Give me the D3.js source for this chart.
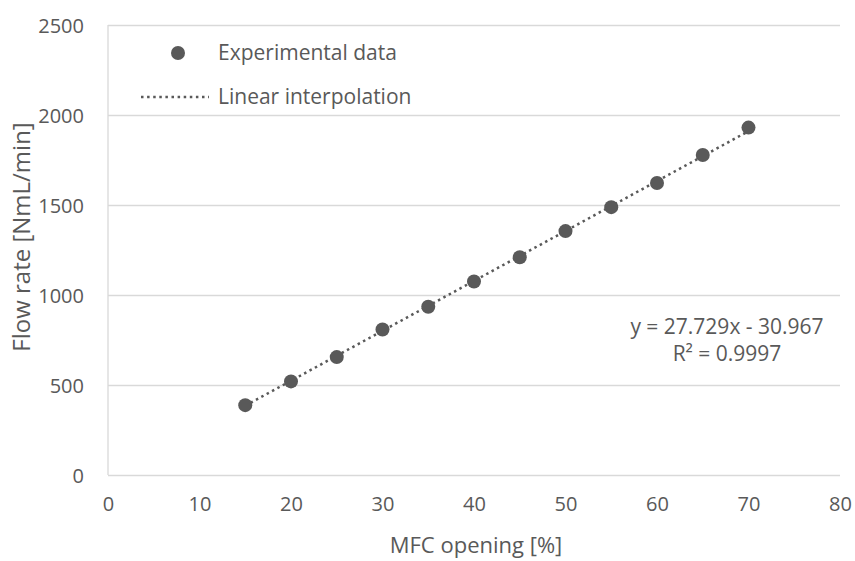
<!DOCTYPE html>
<meta charset="utf-8">
<title>Flow rate vs MFC opening</title>
<style>
    body { margin: 0; background: #fff; }
    text { font-family: "Open Sans", sans-serif; fill: #595959; }
    .grid line { stroke: #d9d9d9; stroke-width: 1.3; }
    .grid .domain { display: none; }
    .axis .domain, .axis line { display: none; }
    .axis text { font-size: 20px; }
    .trend { fill: none; stroke: #595959; stroke-width: 2.5; stroke-dasharray: 2.5 3.6; }
    .pt { fill: #595959; }
</style>
<body>
<svg width="855" height="561"></svg>
</body>
<script src="https://cdn.jsdelivr.net/npm/d3@7"></script>
<script>
    // data
    var opening = [15, 20, 25, 30, 35, 40, 45, 50, 55, 60, 65, 70];
    var flowRate = [388, 520, 655, 808, 935, 1075, 1210, 1355, 1488, 1622, 1778, 1930];
    var xTicks = [0, 10, 20, 30, 40, 50, 60, 70, 80];
    var yTicks = [0, 500, 1000, 1500, 2000, 2500];
    var slope = 27.729, intercept = -30.967, r2 = 0.9997;

    var margin = {top: 25, right: 15, bottom: 86, left: 108},
        width = 855 - margin.left - margin.right,
        height = 561 - margin.top - margin.bottom;

    var svg = d3.select("svg").append("g")
        .attr("transform", "translate(" + margin.left + "," + margin.top + ")");

    var x = d3.scaleLinear().domain([0, 80]).range([0, width]);
    var y = d3.scaleLinear().domain([0, 2500]).range([height, 0]);

    // horizontal gridlines
    svg.append("g")
        .attr("class", "grid")
        .call(d3.axisLeft(y).tickValues(yTicks).tickSize(-width).tickFormat(""));
    // left axis line
    svg.append("line")
        .attr("x1", 0).attr("x2", 0).attr("y1", 0).attr("y2", height)
        .attr("stroke", "#d9d9d9").attr("stroke-width", 1.3);

    svg.append("g")
        .attr("class", "axis")
        .call(d3.axisLeft(y).tickValues(yTicks).tickSize(0).tickPadding(24).tickFormat(d3.format("d")))
        .selectAll("text").attr("dy", "0.35em");

    svg.append("g")
        .attr("class", "axis")
        .attr("transform", "translate(0," + height + ")")
        .call(d3.axisBottom(x).tickValues(xTicks).tickSize(0).tickPadding(22).tickFormat(d3.format("d")));

    // trendline
    var xs = d3.extent(opening);
    svg.append("path")
        .attr("class", "trend")
        .attr("d", d3.line()([[x(xs[0]), y(slope * xs[0] + intercept)], [x(xs[1]), y(slope * xs[1] + intercept)]]));

    svg.append("g").selectAll(".pt")
        .data(opening)
        .enter()
        .append("circle")
        .attr("class", "pt")
        .attr("cx", function(d) { return x(d); })
        .attr("cy", function(d, i) { return y(flowRate[i]); })
        .attr("r", 7);

    // equation
    var eq = svg.append("text")
        .attr("text-anchor", "middle")
        .style("font-size", "21px")
        .attr("transform", "translate(" + (727 - margin.left) + "," + (334 - margin.top) + ")");
    eq.append("tspan").attr("x", 0).text("y = " + slope + "x - " + Math.abs(intercept));
    eq.append("tspan").attr("x", 0).attr("dy", 27).text("R\u00b2 = " + r2);

    // legend
    var lg = d3.select("svg").append("g");
    lg.append("circle").attr("class", "pt").attr("cx", 178).attr("cy", 53).attr("r", 7);
    lg.append("text").attr("x", 218).attr("y", 60).style("font-size", "21px").text("Experimental data");
    lg.append("line").attr("class", "trend").attr("x1", 141).attr("x2", 209).attr("y1", 97).attr("y2", 97);
    lg.append("text").attr("x", 218).attr("y", 104).style("font-size", "21px").text("Linear interpolation");

    // axis titles
    d3.select("svg").append("text")
        .attr("text-anchor", "middle")
        .attr("x", 476).attr("y", 553)
        .style("font-size", "22px")
        .text("MFC opening [%]");
    d3.select("svg").append("text")
        .attr("text-anchor", "middle")
        .attr("transform", "translate(30,237) rotate(-90)")
        .style("font-size", "24px")
        .text("Flow rate [NmL/min]");
</script>
